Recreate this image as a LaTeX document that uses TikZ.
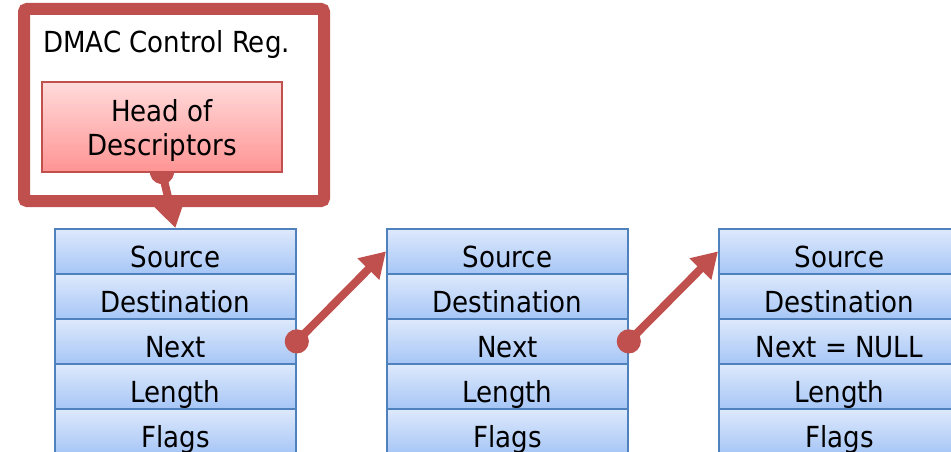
\documentclass[tikz,border=0pt]{standalone}
\usepackage{fontspec}
\setmainfont{DejaVu Sans Condensed}
\usepackage{tikz}
\usetikzlibrary{arrows.meta,positioning,calc}
\usepackage{xcolor}
\definecolor{regred}{RGB}{192,80,77}
\definecolor{cellblue}{RGB}{79,129,189}
\definecolor{celltop}{RGB}{222,233,252}
\definecolor{cellbot}{RGB}{166,198,246}
\definecolor{headtop}{RGB}{255,218,218}
\definecolor{headbot}{RGB}{255,148,148}

\begin{document}
\begin{tikzpicture}[x=1pt, y=-1pt,
    font=\fontsize{29}{34}\selectfont,
    cell/.style={draw=cellblue, line width=1.8pt, top color=celltop, bottom color=cellbot,
        minimum width=241pt, minimum height=45pt, inner sep=0pt, anchor=north west,
        text height=33pt, text depth=0pt},
    link/.style={regred, line width=8pt,
        {Circle[length=24pt]}-{Triangle[length=25pt, width=29pt]}, shorten <=-12pt}]
    \useasboundingbox (0,0) rectangle (951,452);
    \clip (0,0) rectangle (951,452);
    \node[draw=regred, line width=12pt, rounded corners=3pt, fill=white,
        minimum width=300pt, minimum height=192pt, inner sep=0pt] (ctrl) at (174,105) {};
    \node[anchor=base west, inner sep=0pt] (ctrllbl) at (43,53) {DMAC Control Reg.};
    \foreach \c/\x/\nxt in {1/54/Next, 2/386/Next, 3/718/{Next = NULL}} {
        \foreach \r/\lbl in {1/Source, 2/Destination, 3/\nxt, 4/Length, 5/Flags}
            \node[cell] (c\c-\r) at (\x, 228+45*\r-45) {\lbl};
    }
    \draw[link] (162,172) -- (c1-1.north);
    \node[draw=regred, line width=1.2pt, top color=headtop, bottom color=headbot,
        minimum width=240pt, minimum height=90pt, align=center, inner sep=0pt,
        text depth=0pt] (head) at (162,127)
        {Head of\\Descriptors};
    \draw[link] (c1-3.east) -- (c2-1.west);
    \draw[link] (c2-3.east) -- (c3-1.west);
\end{tikzpicture}
\end{document}
